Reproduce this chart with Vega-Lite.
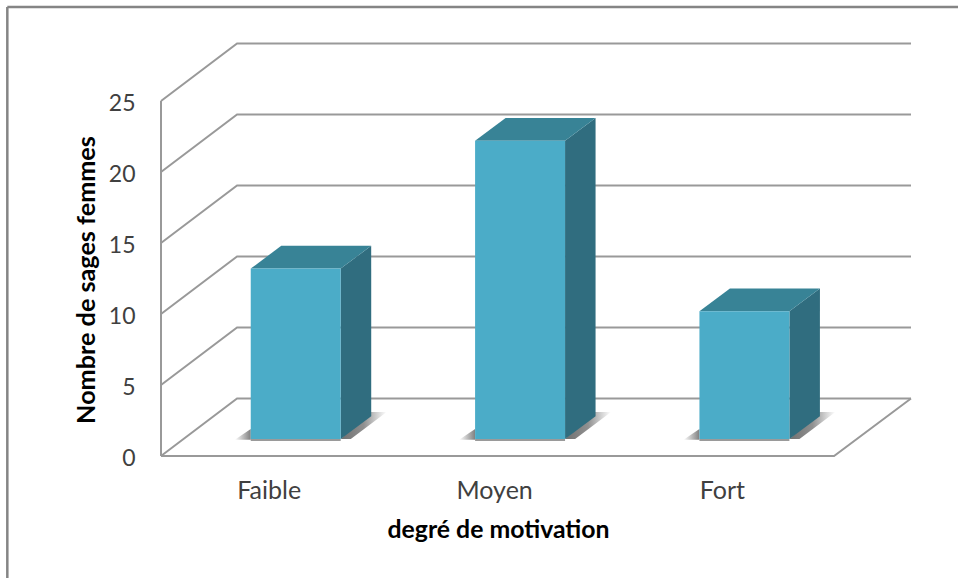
{
"$schema":"https://vega.github.io/schema/vega-lite/v6.json",
"width":750,"height":412.5,
"autosize":{"type":"none"},
"padding":{"left":161,"top":43.5,"right":47,"bottom":122},
"background":"white",
"config":{"view":{"stroke":null}},
"datasets":{
"walls":[
{"g":"v0","x":0,"y":0},{"g":"v0","x":0.339,"y":4.05},{"g":"v0","x":3.343,"y":4.05},
{"g":"v5","x":0,"y":5},{"g":"v5","x":0.339,"y":9.05},{"g":"v5","x":3.343,"y":9.05},
{"g":"v10","x":0,"y":10},{"g":"v10","x":0.339,"y":14.05},{"g":"v10","x":3.343,"y":14.05},
{"g":"v15","x":0,"y":15},{"g":"v15","x":0.339,"y":19.05},{"g":"v15","x":3.343,"y":19.05},
{"g":"v20","x":0,"y":20},{"g":"v20","x":0.339,"y":24.05},{"g":"v20","x":3.343,"y":24.05},
{"g":"v25","x":0,"y":25},{"g":"v25","x":0.339,"y":29.05},{"g":"v25","x":3.343,"y":29.05},
{"g":"floor","x":0,"y":0},{"g":"floor","x":3,"y":0},{"g":"floor","x":3.343,"y":4.05},
{"g":"wall","x":0,"y":0},{"g":"wall","x":0,"y":25}
],
"frame":[
{"g":"top","x":-0.685,"y":31.62},{"g":"top","x":3.553,"y":31.62},
{"g":"left","x":-0.685,"y":31.62},{"g":"left","x":-0.685,"y":-8.6}
],
"bars":[
{"cat":"Faible","x0":0.4,"x1":0.801,"value":12},
{"cat":"Moyen","x0":1.4,"x1":1.801,"value":21},
{"cat":"Fort","x0":2.4,"x1":2.801,"value":9}
],
"base":[
{"cat":"Faible","x0":0.4,"x1":0.801,"y":-0.08},
{"cat":"Moyen","x0":1.4,"x1":1.801,"y":-0.08},
{"cat":"Fort","x0":2.4,"x1":2.801,"y":-0.08}
],
"tops":[
{"cat":"Faible","x":0.4,"a":12,"b":12},{"cat":"Faible","x":0.536,"a":12,"b":13.6},{"cat":"Faible","x":0.801,"a":12,"b":13.6},{"cat":"Faible","x":0.937,"a":13.6,"b":13.6},
{"cat":"Moyen","x":1.4,"a":21,"b":21},{"cat":"Moyen","x":1.536,"a":21,"b":22.6},{"cat":"Moyen","x":1.801,"a":21,"b":22.6},{"cat":"Moyen","x":1.937,"a":22.6,"b":22.6},
{"cat":"Fort","x":2.4,"a":9,"b":9},{"cat":"Fort","x":2.536,"a":9,"b":10.6},{"cat":"Fort","x":2.801,"a":9,"b":10.6},{"cat":"Fort","x":2.937,"a":10.6,"b":10.6}
],
"sides":[
{"cat":"Faible","x":0.801,"a":0,"b":12},{"cat":"Faible","x":0.937,"a":1.6,"b":13.6},
{"cat":"Moyen","x":1.801,"a":0,"b":21},{"cat":"Moyen","x":1.937,"a":1.6,"b":22.6},
{"cat":"Fort","x":2.801,"a":0,"b":9},{"cat":"Fort","x":2.937,"a":1.6,"b":10.6}
],
"shadowR":[
{"cat":"Faible","x":0.801,"a":0,"b":0},{"cat":"Faible","x":0.846,"a":0,"b":0.64},{"cat":"Faible","x":0.935,"a":1.06,"b":1.9},{"cat":"Faible","x":1.006,"a":1.9,"b":1.9},
{"cat":"Moyen","x":1.801,"a":0,"b":0},{"cat":"Moyen","x":1.846,"a":0,"b":0.64},{"cat":"Moyen","x":1.935,"a":1.06,"b":1.9},{"cat":"Moyen","x":2.006,"a":1.9,"b":1.9},
{"cat":"Fort","x":2.801,"a":0,"b":0},{"cat":"Fort","x":2.846,"a":0,"b":0.64},{"cat":"Fort","x":2.935,"a":1.06,"b":1.9},{"cat":"Fort","x":3.006,"a":1.9,"b":1.9}
],
"shadowL":[
{"cat":"Faible","x":0.329,"a":-0.05,"b":-0.05},{"cat":"Faible","x":0.4,"a":-0.05,"b":0.7},
{"cat":"Moyen","x":1.329,"a":-0.05,"b":-0.05},{"cat":"Moyen","x":1.4,"a":-0.05,"b":0.7},
{"cat":"Fort","x":2.329,"a":-0.05,"b":-0.05},{"cat":"Fort","x":2.4,"a":-0.05,"b":0.7}
]
},
"resolve":{"scale":{"x":"independent","y":"independent"},"axis":{"x":"independent","y":"independent"}},
"layer":[
{"data":{"name":"walls"},
 "mark":{"type":"line","color":"#999999","strokeWidth":2},
 "encoding":{
  "detail":{"field":"g"},
  "x":{"field":"x","type":"quantitative","scale":{"domain":[0,3.343],"nice":false,"zero":false},
   "axis":{"values":[0.48,1.485,2.5],"grid":false,"domain":false,"ticks":false,"labelExpr":"['Faible','Moyen','Fort'][floor(datum.value)]",
    "labelFont":"Lato","labelFontSize":25,"labelColor":"#404040","labelPadding":34,"labelBaseline":"middle","labelFlush":false,"labelOverlap":false,
    "title":"degré de motivation","titleFont":"Lato","titleFontSize":24.8,"titleFontWeight":"bold","titleColor":"#000000","titleX":337,"titleY":74,"titleBaseline":"middle","titleAlign":"center","titleAnchor":"middle"}},
  "y":{"field":"y","type":"quantitative","scale":{"domain":[0,29.05],"nice":false,"zero":false},
   "axis":{"values":[0,5,10,15,20,25],"grid":false,"domain":false,"ticks":false,"labelFont":"Lato","labelFontSize":23,"labelColor":"#404040","labelPadding":26,"labelFlush":false,"labelOverlap":false,"labelBaseline":"middle","labelOffset":2,
    "title":"Nombre de sages femmes","titleFont":"Lato","titleFontSize":25.2,"titleFontWeight":"bold","titleColor":"#000000","titleX":-75,"titleY":236,"titleBaseline":"middle","titleAlign":"center","titleAnchor":"middle"}}
 }},
{"data":{"name":"frame"},
 "mark":{"type":"line","color":"#858585","strokeWidth":2.5,"clip":false},
 "encoding":{"detail":{"field":"g"},
  "x":{"field":"x","type":"quantitative","axis":null,"scale":{"domain":[0,3.343],"nice":false,"zero":false}},
  "y":{"field":"y","type":"quantitative","axis":null,"scale":{"domain":[0,29.05],"nice":false,"zero":false}}}},
{"data":{"name":"shadowR"},
 "mark":{"type":"area","opacity":1,"color":{"gradient":"linear","x1":0,"x2":1,"y1":0,"y2":0,"stops":[{"offset":0,"color":"#707070"},{"offset":0.5,"color":"#909090"},{"offset":0.8,"color":"#d4d4d4"},{"offset":1,"color":"#ffffff"}]}},
 "encoding":{"detail":{"field":"cat"},
  "x":{"field":"x","type":"quantitative","axis":null,"scale":{"domain":[0,3.343],"nice":false,"zero":false}},
  "y":{"field":"a","type":"quantitative","axis":null,"scale":{"domain":[-1.2,27.85],"nice":false,"zero":false}},
  "y2":{"field":"b"}}},
{"data":{"name":"shadowL"},
 "mark":{"type":"area","color":{"gradient":"linear","x1":0,"x2":1,"y1":0,"y2":0,"stops":[{"offset":0,"color":"#ffffff"},{"offset":1,"color":"#808080"}]}},
 "encoding":{"detail":{"field":"cat"},
  "x":{"field":"x","type":"quantitative","axis":null,"scale":{"domain":[0,3.343],"nice":false,"zero":false}},
  "y":{"field":"a","type":"quantitative","axis":null,"scale":{"domain":[-1.2,27.85],"nice":false,"zero":false}},
  "y2":{"field":"b"}}},
{"data":{"name":"base"},
 "mark":{"type":"rule","color":"#9a9a9a","strokeWidth":2},
 "encoding":{
  "x":{"field":"x0","type":"quantitative","axis":null,"scale":{"domain":[0,3.343],"nice":false,"zero":false}},
  "x2":{"field":"x1"},
  "y":{"field":"y","type":"quantitative","axis":null,"scale":{"domain":[-1.2,27.85],"nice":false,"zero":false}}}},
{"data":{"name":"sides"},
 "mark":{"type":"area","color":"#306d7f"},
 "encoding":{"detail":{"field":"cat"},
  "x":{"field":"x","type":"quantitative","axis":null,"scale":{"domain":[0,3.343],"nice":false,"zero":false}},
  "y":{"field":"a","type":"quantitative","axis":null,"scale":{"domain":[-1.2,27.85],"nice":false,"zero":false}},
  "y2":{"field":"b"}}},
{"data":{"name":"tops"},
 "mark":{"type":"area","color":"#388396"},
 "encoding":{"detail":{"field":"cat"},
  "x":{"field":"x","type":"quantitative","axis":null,"scale":{"domain":[0,3.343],"nice":false,"zero":false}},
  "y":{"field":"a","type":"quantitative","axis":null,"scale":{"domain":[-1.2,27.85],"nice":false,"zero":false}},
  "y2":{"field":"b"}}},
{"data":{"name":"bars"},
 "mark":{"type":"bar","color":"#4bacc8"},
 "encoding":{
  "x":{"field":"x0","type":"quantitative","axis":null,"scale":{"domain":[0,3.343],"nice":false,"zero":false}},
  "x2":{"field":"x1"},
  "y":{"field":"value","type":"quantitative","axis":null,"scale":{"domain":[-1.2,27.85],"nice":false,"zero":false}},
  "y2":{"datum":0}}}
]
}
